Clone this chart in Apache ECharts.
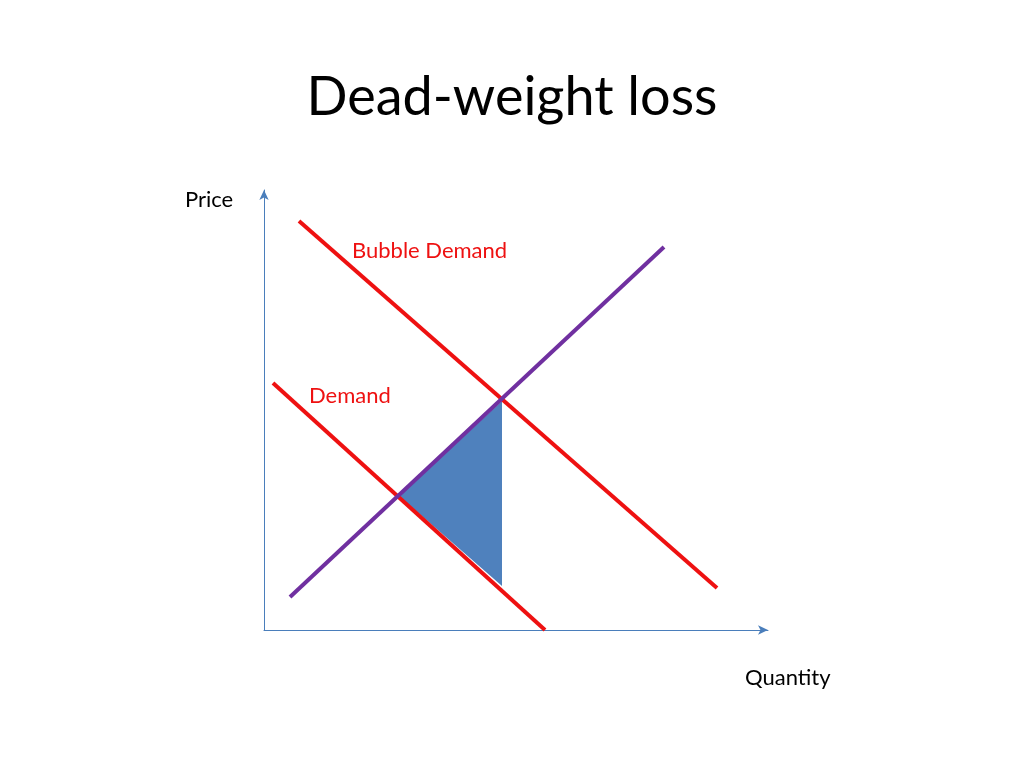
<!DOCTYPE html>
<html><head><meta charset="utf-8">
<script src="https://cdn.jsdelivr.net/npm/echarts@6/dist/echarts.min.js"></script>
<style>html,body{margin:0;background:#fff}#c{width:1024px;height:768px}</style>
</head><body><div id="c"></div>
<script>
const bubbleDemand = [[35,409],[453,42]];
const demand = [[9,247],[281,0]];
const supply = [[26,33],[400,383]];
const dwl = [[135,134],[238,229],[238,44]];
const chart = echarts.init(document.getElementById('c'));
const F = 'Lato';
chart.setOption({
  animation:false,
  title:{text:'Dead-weight loss',left:'center',top:66,textStyle:{fontFamily:F,fontSize:54,fontWeight:'normal',color:'#000'}},
  grid:{left:264,top:190,width:504,height:440},
  xAxis:{type:'value',min:0,max:504,axisLine:{lineStyle:{color:'#4a7ebb',width:1},symbol:['none','arrow'],symbolSize:[7,10]},axisTick:{show:false},axisLabel:{show:false},splitLine:{show:false}},
  yAxis:{type:'value',min:0,max:440,axisLine:{show:true,lineStyle:{color:'#4a7ebb',width:1},symbol:['none','arrow'],symbolSize:[7,10]},axisTick:{show:false},axisLabel:{show:false},splitLine:{show:false}},
  series:[
    {type:'custom',renderItem:(p,api)=>({type:'polygon',shape:{points:dwl.map(d=>api.coord(d))},style:{fill:'#4f81bd'}}),data:[0]},
    {type:'line',data:bubbleDemand,symbol:'none',lineStyle:{color:'#ee1111',width:4}},
    {type:'line',data:demand,symbol:'none',lineStyle:{color:'#ee1111',width:4}},
    {type:'line',data:supply,symbol:'none',lineStyle:{color:'#7030a0',width:4}}
  ],
  graphic:[
    {type:'text',left:352,top:240,style:{text:'Bubble Demand',font:'22px Lato',fill:'#ee1111'}},
    {type:'text',left:309,top:385,style:{text:'Demand',font:'22px Lato',fill:'#ee1111'}},
    {type:'text',left:437,top:488,style:{text:'DWL',font:'bold 21px Lato',fill:'#fff'}},
    {type:'text',left:185,top:189,style:{text:'Price',font:'22px Lato',fill:'#000'}},
    {type:'text',left:745,top:667,style:{text:'Quantity',font:'22px Lato',fill:'#000'}}
  ]
});
</script></body></html>
